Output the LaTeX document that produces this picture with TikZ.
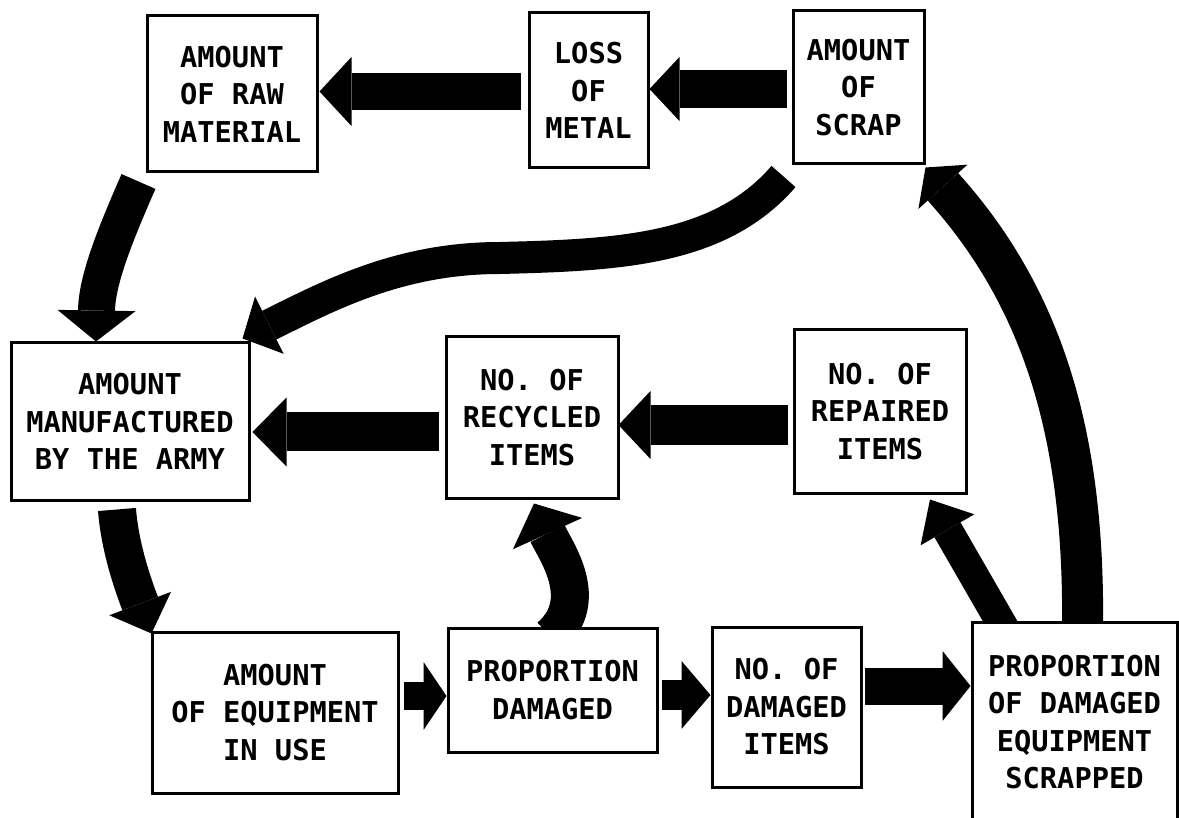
\documentclass[tikz,border=0pt]{standalone}
\usepackage{fontspec}
\newfontfamily\diagfont{DejaVu Sans Mono}
\usetikzlibrary{arrows.meta}
\pgfdeclarelayer{back}
\pgfdeclarelayer{bg}
\pgfsetlayers{back,bg,main}
\tikzset{
  box/.style={draw=black, line width=3pt, fill=white, inner sep=0pt, align=center,
    font=\diagfont\bfseries\fontsize{28.7}{37.5}\selectfont},
  blockarrow/.style n args={3}{draw=black, line width=#1pt,
    -{Triangle[length=#2pt, width=#3pt, line width=0pt 0 0]}},
}
\begin{document}
\begin{tikzpicture}[x=1pt,y=-1pt]
\useasboundingbox (0,0) rectangle (1179,818);
\begin{pgfonlayer}{back}
\fill[white] (0,0) rectangle (1179,818);
\end{pgfonlayer}

% boxes
\node[box, minimum width=170pt, minimum height=156pt] (raw) at (232,94) {AMOUNT\\OF RAW\\MATERIAL};
\node[box, minimum width=119pt, minimum height=155pt] (loss) at (588.5,90.5) {LOSS\\OF\\METAL};
\node[box, minimum width=131pt, minimum height=153pt] (scrap) at (858.5,87.5) {AMOUNT\\OF\\SCRAP};
\node[box, minimum width=238pt, minimum height=157pt] (manu) at (130,421.5) {AMOUNT\\MANUFACTURED\\BY THE ARMY};
\node[box, minimum width=172pt, minimum height=161pt] (recyc) at (532,417.5) {NO. OF\\RECYCLED\\ITEMS};
\node[box, minimum width=172pt, minimum height=163pt] (repair) at (880,411.5) {NO. OF\\REPAIRED\\ITEMS};
\node[box, minimum width=246pt, minimum height=161pt] (equip) at (275,712.5) {AMOUNT\\OF EQUIPMENT\\IN USE};
\node[box, minimum width=209pt, minimum height=124pt] (propd) at (552.5,690) {PROPORTION\\DAMAGED};
\node[box, minimum width=149pt, minimum height=160pt] (dmgd) at (786.5,707) {NO. OF\\DAMAGED\\ITEMS};
\node[box, minimum width=205pt, minimum height=200pt] (scrapd) at (1074.5,722) {PROPORTION\\OF DAMAGED\\EQUIPMENT\\SCRAPPED};

\begin{pgfonlayer}{bg}
% straight arrows
\draw[blockarrow={38}{30}{64}] ([shift={(-5,1.5)}]scrap.west) -- ([shift={(0,-1.5)}]loss.east);
\draw[blockarrow={37}{32}{69}] ([shift={(-7,1)}]loss.west) -- ([shift={(1,-2.5)}]raw.east);
\draw[blockarrow={39}{34}{69}] ([shift={(-6,14.5)}]recyc.west) -- ([shift={(2,10.5)}]manu.east);
\draw[blockarrow={40}{32}{68}] ([shift={(-5,13.5)}]repair.west) -- ([shift={(-1,7.5)}]recyc.east);
\draw[blockarrow={28}{23}{68}] ([shift={(4,-16.5)}]equip.east) -- ([shift={(0,6)}]propd.west);
\draw[blockarrow={30}{29}{68}] ([shift={(3,5)}]propd.east) -- ([shift={(0,-12)}]dmgd.west);
\draw[blockarrow={37}{28}{70}] ([shift={(2,-21)}]dmgd.east) -- ([shift={(0,-36)}]scrapd.west);
\draw[blockarrow={30}{35}{62}] ([shift={(-69,10)}]scrapd.north) -- ([shift={(50,5)}]repair.south);
% curved arrows
\draw[blockarrow={37}{31}{78}] ([shift={(-7,8)}]raw.south west) .. controls (115,235) and (97,280) .. ([shift={(-34,0)}]manu.north);
\draw[blockarrow={38}{32}{66}] ([shift={(-13,8)}]manu.south) .. controls (120,550) and (135,590) .. ([shift={(1,3)}]equip.north west);
\draw[blockarrow={32}{30}{64}] ([shift={(-8,11)}]scrap.south west) .. controls (720,250) and (620,255) .. (500,258)
   .. controls (400,258) and (330,295) .. ([shift={(-8,-3)}]manu.north east);
\draw[blockarrow={38}{33}{76}] ([shift={(-2,10)}]propd.north) .. controls (592,600) and (555,550) .. ([shift={(2,4)}]recyc.south);
\draw[blockarrow={41}{26}{66}] ([shift={(8,10)}]scrapd.north) .. controls (1085,440) and (1045,300) .. ([shift={(0,2)}]scrap.south east);
\end{pgfonlayer}
\end{tikzpicture}
\end{document}
